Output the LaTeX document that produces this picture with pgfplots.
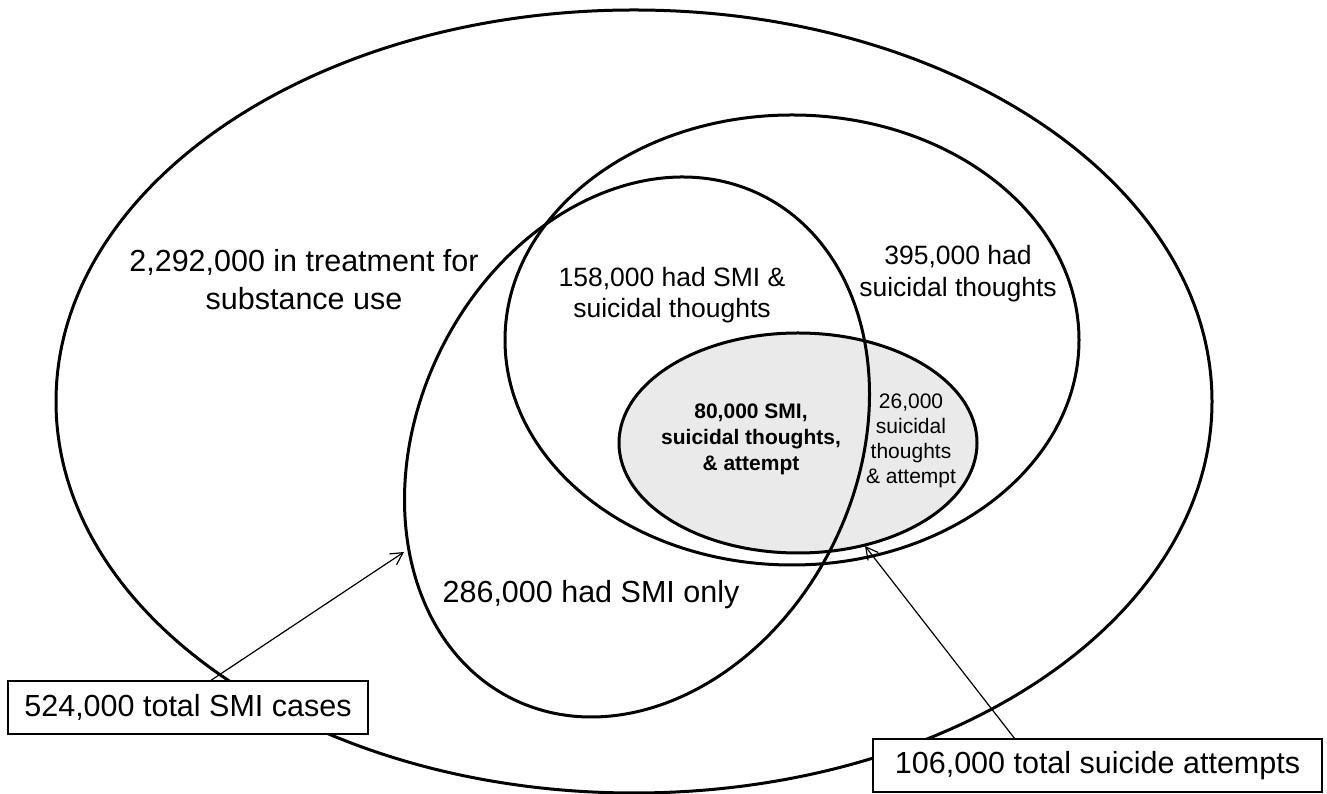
\documentclass[border=0pt]{standalone}
\usepackage{pgfplots}
\pgfplotsset{compat=1.18}
\usepackage{fontspec}
\setmainfont{Liberation Sans}
\usetikzlibrary{arrows.meta}
\definecolor{attgray}{HTML}{EAEAEA}
\begin{document}
\begin{tikzpicture}
\begin{axis}[
  scale only axis, width=1327pt, height=794pt,
  xmin=0, xmax=1327, ymin=0, ymax=794,
  hide axis, clip=true]
\path (axis cs:0,0) rectangle (axis cs:1327,794);
% attempts ellipse (filled)
\fill[attgray] (axis cs:798,351) ellipse [x radius=179, y radius=110];
% outlines
\draw[line width=3pt] (axis cs:634,392.5) ellipse [x radius=578, y radius=391.5];
\draw[line width=3pt] (axis cs:792,454) ellipse [x radius=287, y radius=225];
\draw[line width=3pt] (axis cs:798,351) ellipse [x radius=179, y radius=110];
\draw[line width=3pt, rotate around={63.7:(axis cs:637,347)}] (axis cs:637,347) ellipse [x radius=281, y radius=219];
% arrows
\draw[line width=1.2pt, -{Straight Barb[length=12pt,width=13pt,line width=1.2pt]}] (axis cs:210,113) -- (axis cs:404,242);
\draw[line width=1.2pt, -{Straight Barb[length=12pt,width=13pt,line width=1.2pt]}] (axis cs:1015,55) -- (axis cs:865,248);
% boxes
\node[draw, line width=1.2pt, fill=white, minimum width=360pt, minimum height=53pt, inner sep=0pt,
  font=\fontsize{30.5}{35}\selectfont] at (axis cs:188,86.5) {524,000 total SMI cases};
\node[draw, line width=1.2pt, fill=white, minimum width=449pt, minimum height=53pt, inner sep=0pt,
  font=\fontsize{30.5}{35}\selectfont] at (axis cs:1097.5,28.5) {106,000 total suicide attempts};
% labels
\node[align=center, font=\fontsize{30.5}{38}\selectfont] at (axis cs:304,514) {2,292,000 in treatment for\\substance use};
\node[align=center, font=\fontsize{26.5}{32}\selectfont] at (axis cs:958,520) {395,000 had\\suicidal thoughts};
\node[align=center, font=\fontsize{26.5}{30.5}\selectfont] at (axis cs:672,499) {158,000 had SMI \&\\suicidal thoughts};
\node[align=center, font=\fontsize{30.5}{35}\selectfont] at (axis cs:591,199) {286,000 had SMI only};
\node[align=center, font=\fontsize{21}{26}\selectfont\bfseries] at (axis cs:751,355) {80,000 SMI,\\suicidal thoughts,\\\& attempt};
\node[align=center, font=\fontsize{21}{25}\selectfont] at (axis cs:911,353.5) {26,000\\suicidal\\thoughts\\\& attempt};
\end{axis}
\end{tikzpicture}
\end{document}
